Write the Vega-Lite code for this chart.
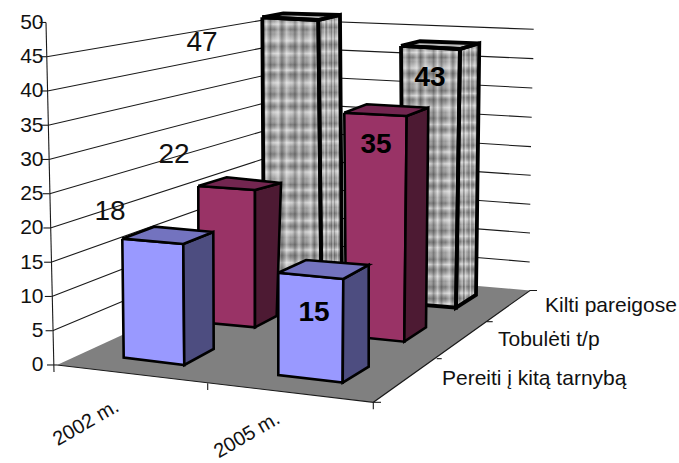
{"$schema":"https://vega.github.io/schema/vega-lite/v6.json","width":636,"height":463,"autosize":"none","padding":{"left":43,"top":0,"right":0,"bottom":0},"background":"white","config":{"view":{"stroke":null}},
"datasets":{
"floor":[{"i":0,"x":57,"y":0},{"i":1,"x":268,"y":14.16},{"i":2,"x":530,"y":10.88},{"i":3,"x":373.3,"y":-5.45}],
"lines":[
{"id":"g5","i":0,"x":52.6,"y":5},{"id":"g5","i":1,"x":268,"y":18.2},{"id":"g5","i":2,"x":529.7,"y":15.04},
{"id":"g10","i":0,"x":51.8,"y":10},{"id":"g10","i":1,"x":268,"y":22.23},{"id":"g10","i":2,"x":530,"y":19.27},
{"id":"g15","i":0,"x":51.1,"y":15},{"id":"g15","i":1,"x":268,"y":26.27},{"id":"g15","i":2,"x":530.3,"y":23.46},
{"id":"g20","i":0,"x":50.4,"y":20},{"id":"g20","i":1,"x":268,"y":30.3},{"id":"g20","i":2,"x":530.7,"y":27.69},
{"id":"g25","i":0,"x":49.7,"y":25},{"id":"g25","i":1,"x":268,"y":34.34},{"id":"g25","i":2,"x":531,"y":31.87},
{"id":"g30","i":0,"x":48.9,"y":30},{"id":"g30","i":1,"x":268,"y":38.37},{"id":"g30","i":2,"x":531.7,"y":36.16},
{"id":"g35","i":0,"x":48.2,"y":35},{"id":"g35","i":1,"x":268,"y":42.4},{"id":"g35","i":2,"x":532.3,"y":40.44},
{"id":"g40","i":0,"x":47.5,"y":40},{"id":"g40","i":1,"x":268,"y":46.44},{"id":"g40","i":2,"x":533.3,"y":44.72},
{"id":"g45","i":0,"x":46.7,"y":45},{"id":"g45","i":1,"x":268,"y":50.47},{"id":"g45","i":2,"x":533.7,"y":49},
{"id":"axis","i":0,"x":46,"y":50},{"id":"axis","i":1,"x":54,"y":-1.02},
{"id":"t0","i":0,"x":47,"y":0},{"id":"t0","i":1,"x":57,"y":0},
{"id":"t5","i":0,"x":45.6,"y":5},{"id":"t5","i":1,"x":52.6,"y":5},
{"id":"t10","i":0,"x":44.8,"y":10},{"id":"t10","i":1,"x":51.8,"y":10},
{"id":"t15","i":0,"x":44.1,"y":15},{"id":"t15","i":1,"x":51.1,"y":15},
{"id":"t20","i":0,"x":43.4,"y":20},{"id":"t20","i":1,"x":50.4,"y":20},
{"id":"t25","i":0,"x":42.7,"y":25},{"id":"t25","i":1,"x":49.7,"y":25},
{"id":"t30","i":0,"x":41.9,"y":30},{"id":"t30","i":1,"x":48.9,"y":30},
{"id":"t35","i":0,"x":41.2,"y":35},{"id":"t35","i":1,"x":48.2,"y":35},
{"id":"t40","i":0,"x":40.5,"y":40},{"id":"t40","i":1,"x":47.5,"y":40},
{"id":"t45","i":0,"x":39.7,"y":45},{"id":"t45","i":1,"x":46.7,"y":45},
{"id":"t50","i":0,"x":39.5,"y":50},{"id":"t50","i":1,"x":46,"y":50},
{"id":"edge","i":0,"x":57,"y":0},{"id":"edge","i":1,"x":373.3,"y":-5.45},{"id":"edge","i":2,"x":530,"y":10.88},{"id":"edge","i":3,"x":537,"y":10.88},
{"id":"s1","i":0,"x":436.7,"y":0.92},{"id":"s1","i":1,"x":441.7,"y":0.92},
{"id":"s2","i":0,"x":486.7,"y":6.32},{"id":"s2","i":1,"x":492.7,"y":6.32},
{"id":"s3","i":0,"x":373.3,"y":-5.45},{"id":"s3","i":1,"x":381,"y":-5.45},
{"id":"b1","i":0,"x":207.7,"y":-2.67},{"id":"b1","i":1,"x":207.7,"y":-3.65},
{"id":"b2","i":0,"x":373.3,"y":-5.45},{"id":"b2","i":1,"x":373.3,"y":-6.47}],
"grey":[
{"poly":"GLf","face":"front","i":0,"x":262.3,"y":50.76},{"poly":"GLf","face":"front","i":1,"x":318.3,"y":50.36},{"poly":"GLf","face":"front","i":2,"x":321.5,"y":10.07},{"poly":"GLf","face":"front","i":3,"x":264,"y":10.8},{"poly":"GLf","face":"front","i":4,"x":262.3,"y":50.76},
{"poly":"GLs","face":"side","i":0,"x":318.3,"y":50.36},{"poly":"GLs","face":"side","i":1,"x":340,"y":51.09},{"poly":"GLs","face":"side","i":2,"x":342,"y":11.82},{"poly":"GLs","face":"side","i":3,"x":321.5,"y":10.07},{"poly":"GLs","face":"side","i":4,"x":318.3,"y":50.36},
{"poly":"GLt","face":"top","i":0,"x":262.3,"y":50.76},{"poly":"GLt","face":"top","i":1,"x":283.3,"y":51.34},{"poly":"GLt","face":"top","i":2,"x":340,"y":51.09},{"poly":"GLt","face":"top","i":3,"x":318.3,"y":50.36},{"poly":"GLt","face":"top","i":4,"x":262.3,"y":50.76},
{"poly":"GRf","face":"front","i":0,"x":401,"y":46.57},{"poly":"GRf","face":"front","i":1,"x":460,"y":46.13},{"poly":"GRf","face":"front","i":2,"x":456,"y":8.36},{"poly":"GRf","face":"front","i":3,"x":403,"y":9.01},{"poly":"GRf","face":"front","i":4,"x":401,"y":46.57},
{"poly":"GRs","face":"side","i":0,"x":460,"y":46.13},{"poly":"GRs","face":"side","i":1,"x":479.3,"y":46.96},{"poly":"GRs","face":"side","i":2,"x":476,"y":10.22},{"poly":"GRs","face":"side","i":3,"x":456,"y":8.36},{"poly":"GRs","face":"side","i":4,"x":460,"y":46.13},
{"poly":"GRt","face":"top","i":0,"x":401,"y":46.57},{"poly":"GRt","face":"top","i":1,"x":420,"y":47.26},{"poly":"GRt","face":"top","i":2,"x":479.3,"y":46.96},{"poly":"GRt","face":"top","i":3,"x":460,"y":46.13},{"poly":"GRt","face":"top","i":4,"x":401,"y":46.57}],
"solid":[
{"poly":"MLf","tone":"Tobulėti front","i":0,"x":198.3,"y":26.13},{"poly":"MLf","tone":"Tobulėti front","i":1,"x":255,"y":25.55},{"poly":"MLf","tone":"Tobulėti front","i":2,"x":255,"y":5.5},{"poly":"MLf","tone":"Tobulėti front","i":3,"x":198.5,"y":6.28},{"poly":"MLf","tone":"Tobulėti front","i":4,"x":198.3,"y":26.13},
{"poly":"MLs","tone":"Tobulėti side","i":0,"x":255,"y":25.55},{"poly":"MLs","tone":"Tobulėti side","i":1,"x":281,"y":26.57},{"poly":"MLs","tone":"Tobulėti side","i":2,"x":276.7,"y":7.15},{"poly":"MLs","tone":"Tobulėti side","i":3,"x":255,"y":5.5},{"poly":"MLs","tone":"Tobulėti side","i":4,"x":255,"y":25.55},
{"poly":"MLt","tone":"Tobulėti top","i":0,"x":198.3,"y":26.13},{"poly":"MLt","tone":"Tobulėti top","i":1,"x":226.7,"y":27.4},{"poly":"MLt","tone":"Tobulėti top","i":2,"x":281,"y":26.57},{"poly":"MLt","tone":"Tobulėti top","i":3,"x":255,"y":25.55},{"poly":"MLt","tone":"Tobulėti top","i":4,"x":198.3,"y":26.13},
{"poly":"MRf","tone":"Tobulėti front","i":0,"x":344.3,"y":36.83},{"poly":"MRf","tone":"Tobulėti front","i":1,"x":406.7,"y":36.35},{"poly":"MRf","tone":"Tobulėti front","i":2,"x":404.3,"y":3.4},{"poly":"MRf","tone":"Tobulėti front","i":3,"x":346,"y":4.25},{"poly":"MRf","tone":"Tobulėti front","i":4,"x":344.3,"y":36.83},
{"poly":"MRs","tone":"Tobulėti side","i":0,"x":406.7,"y":36.35},{"poly":"MRs","tone":"Tobulėti side","i":1,"x":428.3,"y":37.56},{"poly":"MRs","tone":"Tobulėti side","i":2,"x":426,"y":5.5},{"poly":"MRs","tone":"Tobulėti side","i":3,"x":404.3,"y":3.4},{"poly":"MRs","tone":"Tobulėti side","i":4,"x":406.7,"y":36.35},
{"poly":"MRt","tone":"Tobulėti top","i":0,"x":344.3,"y":36.83},{"poly":"MRt","tone":"Tobulėti top","i":1,"x":366.7,"y":38.06},{"poly":"MRt","tone":"Tobulėti top","i":2,"x":428.3,"y":37.56},{"poly":"MRt","tone":"Tobulėti top","i":3,"x":406.7,"y":36.35},{"poly":"MRt","tone":"Tobulėti top","i":4,"x":344.3,"y":36.83},
{"poly":"BLf","tone":"Pereiti front","i":0,"x":122.3,"y":18.44},{"poly":"BLf","tone":"Pereiti front","i":1,"x":183.3,"y":17.66},{"poly":"BLf","tone":"Pereiti front","i":2,"x":184.3,"y":0},{"poly":"BLf","tone":"Pereiti front","i":3,"x":123.7,"y":1.07},{"poly":"BLf","tone":"Pereiti front","i":4,"x":122.3,"y":18.44},
{"poly":"BLs","tone":"Pereiti side","i":0,"x":183.3,"y":17.66},{"poly":"BLs","tone":"Pereiti side","i":1,"x":213.3,"y":19.42},{"poly":"BLs","tone":"Pereiti side","i":2,"x":213.7,"y":2.34},{"poly":"BLs","tone":"Pereiti side","i":3,"x":184.3,"y":0},{"poly":"BLs","tone":"Pereiti side","i":4,"x":183.3,"y":17.66},
{"poly":"BLt","tone":"Pereiti top","i":0,"x":122.3,"y":18.44},{"poly":"BLt","tone":"Pereiti top","i":1,"x":154.3,"y":20.19},{"poly":"BLt","tone":"Pereiti top","i":2,"x":213.3,"y":19.42},{"poly":"BLt","tone":"Pereiti top","i":3,"x":183.3,"y":17.66},{"poly":"BLt","tone":"Pereiti top","i":4,"x":122.3,"y":18.44},
{"poly":"BRf","tone":"Pereiti front","i":0,"x":278.3,"y":13.47},{"poly":"BRf","tone":"Pereiti front","i":1,"x":343.3,"y":12.55},{"poly":"BRf","tone":"Pereiti front","i":2,"x":342.7,"y":-2.58},{"poly":"BRf","tone":"Pereiti front","i":3,"x":278.3,"y":-1.46},{"poly":"BRf","tone":"Pereiti front","i":4,"x":278.3,"y":13.47},
{"poly":"BRs","tone":"Pereiti side","i":0,"x":343.3,"y":12.55},{"poly":"BRs","tone":"Pereiti side","i":1,"x":368.7,"y":14.6},{"poly":"BRs","tone":"Pereiti side","i":2,"x":368.7,"y":-0.25},{"poly":"BRs","tone":"Pereiti side","i":3,"x":342.7,"y":-2.58},{"poly":"BRs","tone":"Pereiti side","i":4,"x":343.3,"y":12.55},
{"poly":"BRt","tone":"Pereiti top","i":0,"x":278.3,"y":13.47},{"poly":"BRt","tone":"Pereiti top","i":1,"x":306,"y":15.33},{"poly":"BRt","tone":"Pereiti top","i":2,"x":368.7,"y":14.6},{"poly":"BRt","tone":"Pereiti top","i":3,"x":343.3,"y":12.55},{"poly":"BRt","tone":"Pereiti top","i":4,"x":278.3,"y":13.47}]
},
"encoding":{
"x":{"field":"x","type":"quantitative","scale":{"domain":[43,679],"nice":false,"zero":false},"axis":null},
"y":{"field":"y","type":"quantitative","scale":{"domain":[-14.31,53.28],"nice":false,"zero":false},"axis":{"title":null,"values":[0,5,10,15,20,25,30,35,40,45,50],"domain":false,"ticks":false,"grid":false,"labelPadding":0,"labelFontSize":21,"labelFont":"Liberation Sans","labelColor":"#111111","labelOverlap":false,"labelBound":false,"labelFlush":false,"encoding":{"labels":{"update":{"dx":{"signal":"-0.16*datum.value"}}}}}}
},
"layer":[
{"data":{"name":"floor"},"mark":{"type":"line","fill":"#808080","strokeWidth":0,"clip":false},"encoding":{"order":{"field":"i"}}},
{"data":{"name":"lines"},"mark":{"type":"line","color":"#1a1a1a","strokeWidth":1.1,"clip":false},"encoding":{"detail":{"field":"id"},"order":{"field":"i"}}},
{"data":{"name":"grey"},"mark":{"type":"line","fill":"#989898","strokeWidth":0},"encoding":{"detail":{"field":"poly"},"order":{"field":"i"}}},
{"data":{"name":"grey"},"transform":[{"filter":"datum.face==='top'"}],"mark":{"type":"line","fill":"#bcbcbc","strokeWidth":0},"encoding":{"detail":{"field":"poly"},"order":{"field":"i"}}},
{"data":{"name":"grey"},"transform":[{"filter":"datum.face!=='top'"}],"mark":{"type":"line","strokeWidth":0,"fill":{"gradient":"linear","x1":0,"y1":0,"x2":0,"y2":1,"stops":[
{"offset":0,"color":"rgba(60,60,60,.35)"},{"offset":0.025,"color":"rgba(255,255,255,.55)"},{"offset":0.045,"color":"rgba(60,60,60,.35)"},{"offset":0.06,"color":"rgba(255,255,255,0)"},{"offset":0.085,"color":"rgba(255,255,255,.55)"},{"offset":0.105,"color":"rgba(60,60,60,.35)"},{"offset":0.13,"color":"rgba(255,255,255,.55)"},{"offset":0.145,"color":"rgba(255,255,255,0)"},{"offset":0.17,"color":"rgba(60,60,60,.35)"},{"offset":0.19,"color":"rgba(255,255,255,.55)"},{"offset":0.205,"color":"rgba(60,60,60,.35)"},{"offset":0.235,"color":"rgba(255,255,255,.55)"},{"offset":0.255,"color":"rgba(255,255,255,0)"},{"offset":0.275,"color":"rgba(60,60,60,.35)"},{"offset":0.3,"color":"rgba(255,255,255,.55)"},{"offset":0.32,"color":"rgba(60,60,60,.35)"},{"offset":0.34,"color":"rgba(255,255,255,.55)"},{"offset":0.365,"color":"rgba(255,255,255,0)"},{"offset":0.385,"color":"rgba(60,60,60,.35)"},{"offset":0.405,"color":"rgba(255,255,255,.55)"},{"offset":0.43,"color":"rgba(60,60,60,.35)"},{"offset":0.45,"color":"rgba(255,255,255,.55)"},{"offset":0.465,"color":"rgba(255,255,255,0)"},{"offset":0.49,"color":"rgba(60,60,60,.35)"},{"offset":0.515,"color":"rgba(255,255,255,.55)"},{"offset":0.535,"color":"rgba(60,60,60,.35)"},{"offset":0.555,"color":"rgba(255,255,255,.55)"},{"offset":0.58,"color":"rgba(255,255,255,0)"},{"offset":0.6,"color":"rgba(60,60,60,.35)"},{"offset":0.62,"color":"rgba(255,255,255,.55)"},{"offset":0.64,"color":"rgba(60,60,60,.35)"},{"offset":0.665,"color":"rgba(255,255,255,.55)"},{"offset":0.685,"color":"rgba(255,255,255,0)"},{"offset":0.705,"color":"rgba(60,60,60,.35)"},{"offset":0.73,"color":"rgba(255,255,255,.55)"},{"offset":0.75,"color":"rgba(60,60,60,.35)"},{"offset":0.77,"color":"rgba(255,255,255,.55)"},{"offset":0.79,"color":"rgba(255,255,255,0)"},{"offset":0.815,"color":"rgba(60,60,60,.35)"},{"offset":0.835,"color":"rgba(255,255,255,.55)"},{"offset":0.855,"color":"rgba(60,60,60,.35)"},{"offset":0.88,"color":"rgba(255,255,255,.55)"},{"offset":0.9,"color":"rgba(255,255,255,0)"},{"offset":0.92,"color":"rgba(60,60,60,.35)"},{"offset":0.945,"color":"rgba(255,255,255,.55)"},{"offset":0.965,"color":"rgba(60,60,60,.35)"},{"offset":0.985,"color":"rgba(255,255,255,.55)"},{"offset":1,"color":"rgba(60,60,60,.35)"}]}},"encoding":{"detail":{"field":"poly"},"order":{"field":"i"}}},
{"data":{"name":"grey"},"transform":[{"filter":"datum.face!=='top'"}],"mark":{"type":"line","strokeWidth":0,"fill":{"gradient":"linear","x1":0,"y1":0,"x2":1,"y2":0,"stops":[
{"offset":0,"color":"rgba(60,60,60,.35)"},{"offset":0.07,"color":"rgba(255,255,255,.4)"},{"offset":0.14,"color":"rgba(60,60,60,.35)"},{"offset":0.2,"color":"rgba(255,255,255,0)"},{"offset":0.27,"color":"rgba(255,255,255,.4)"},{"offset":0.33,"color":"rgba(60,60,60,.35)"},{"offset":0.41,"color":"rgba(255,255,255,.4)"},{"offset":0.48,"color":"rgba(255,255,255,0)"},{"offset":0.55,"color":"rgba(60,60,60,.35)"},{"offset":0.62,"color":"rgba(255,255,255,.4)"},{"offset":0.69,"color":"rgba(60,60,60,.35)"},{"offset":0.75,"color":"rgba(255,255,255,0)"},{"offset":0.82,"color":"rgba(255,255,255,.4)"},{"offset":0.88,"color":"rgba(60,60,60,.35)"},{"offset":0.94,"color":"rgba(255,255,255,.4)"},{"offset":1,"color":"rgba(60,60,60,.35)"}]}},"encoding":{"detail":{"field":"poly"},"order":{"field":"i"}}},
{"data":{"name":"grey"},"mark":{"type":"line","color":"black","strokeWidth":3.8,"strokeJoin":"miter"},"encoding":{"detail":{"field":"poly"},"order":{"field":"i"}}},
{"data":{"name":"solid"},"mark":{"type":"line","stroke":"black","strokeWidth":2.6,"strokeJoin":"miter","clip":false},"encoding":{"fill":{"field":"tone","type":"nominal","legend":null,"scale":{"domain":["Tobulėti front","Tobulėti side","Tobulėti top","Pereiti front","Pereiti side","Pereiti top"],"range":["#993366","#4d1a33","#732650","#9999ff","#4d4d80","#7373bf"]}},"detail":{"field":"poly"},"order":{"field":"i"}}},
{"data":{"values":[{"label":"47","x":202,"y":47},{"label":"22","x":174,"y":30.66},{"label":"18","x":110,"y":22.34}]},"mark":{"type":"text","font":"Liberation Sans","fontSize":28,"color":"#111111","align":"center","baseline":"middle"},"encoding":{"text":{"field":"label"}}},
{"data":{"values":[{"label":"43","x":430,"y":41.9},{"label":"35","x":376,"y":32.1},{"label":"15","x":314,"y":7.59}]},"mark":{"type":"text","font":"Liberation Sans","fontSize":28,"fontWeight":"bold","color":"#000000","align":"center","baseline":"middle"},"encoding":{"text":{"field":"label"}}},
{"data":{"values":[{"label":"Kilti pareigose","x":545,"y":7.78},{"label":"Tobulėti t/p","x":498,"y":2.82},{"label":"Pereiti į kitą tarnybą","x":442,"y":-2.92}]},"mark":{"type":"text","font":"Liberation Sans","fontSize":21,"color":"#111111","align":"left","baseline":"alphabetic"},"encoding":{"text":{"field":"label"}}},
{"data":{"values":[{"label":"2002 m.","x":86,"y":-8.47},{"label":"2005 m.","x":247,"y":-10.25}]},"mark":{"type":"text","font":"Liberation Sans","fontSize":20,"color":"#111111","align":"center","baseline":"middle","angle":330},"encoding":{"text":{"field":"label"}}}
]}
